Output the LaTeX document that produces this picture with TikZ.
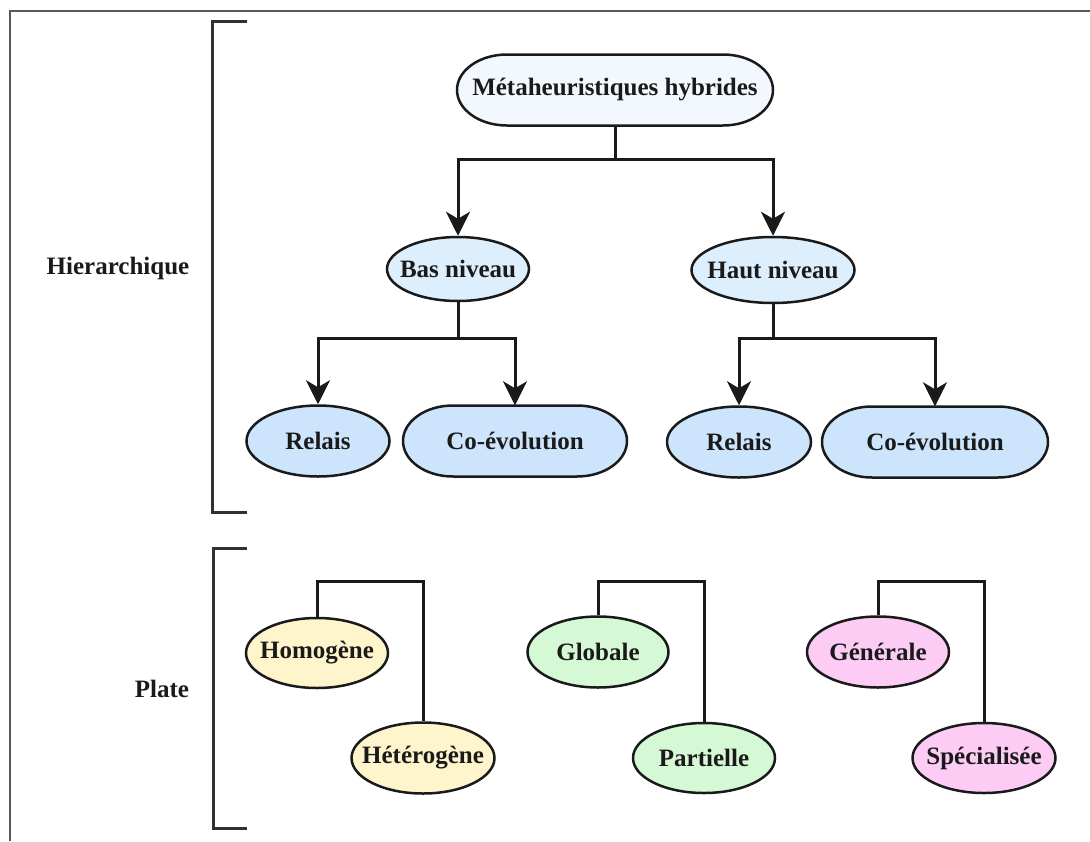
\documentclass[tikz,border=0pt]{standalone}
\usepackage{fontspec}
\setmainfont{Liberation Serif}
\usetikzlibrary{arrows.meta,shapes.geometric}

\definecolor{rootfill}{HTML}{F2F8FD}
\definecolor{midfill}{HTML}{DDEEFC}
\definecolor{leaffill}{HTML}{CCE5FC}
\definecolor{yelfill}{HTML}{FFF5CC}
\definecolor{grnfill}{HTML}{D5F8D5}
\definecolor{pnkfill}{HTML}{FCCCF4}
\definecolor{ink}{HTML}{1A1A1A}

\tikzset{
  txt/.style={font=\bfseries\fontsize{25}{29}\selectfont, text=ink},
  outline/.style={draw=ink, line width=2.5pt},
  oval/.style={outline, ellipse, inner sep=0pt},
  conn/.style={draw=ink, line width=3pt},
  arr/.style={conn, -{Stealth[length=24pt,width=24pt,inset=7pt]}},
  brace/.style={draw=ink!90, line width=3pt},
}

% wide node with elliptical ends: name, x, y, width, height, fill, text
\newcommand\pillnode[7]{%
  \draw[outline, fill=#6]
    (#2-#4/2+50, #3-#5/2) -- (#2+#4/2-50, #3-#5/2)
    arc[start angle=-90, end angle=90, x radius=50, y radius=#5/2]
    -- (#2-#4/2+50, #3+#5/2)
    arc[start angle=90, end angle=270, x radius=50, y radius=#5/2] -- cycle;
  \node[txt, inner sep=0pt, minimum width=#4pt, minimum height=#5pt] (#1) at (#2,#3) {#7};
}

\begin{document}
\begin{tikzpicture}[x=1pt,y=-1pt]
  \useasboundingbox (0,0) rectangle (1090,841);

  % frame lines along the top and left edges
  \draw[black!65, line width=1.5pt] (1090,11) -- (10,11) -- (10,841);

  % section brackets
  \draw[brace] (247,21) -- (212,21) -- (212,512) -- (247,512);
  \draw[brace] (247,548) -- (213,548) -- (213,828) -- (247,828);

  % section labels
  \node[txt] (lh) at (118,268) {Hierarchique};
  \node[txt] (lp) at (162,689) {Plate};

  % hierarchical classification
  \pillnode{root}{615}{90}{316}{71}{rootfill}{Métaheuristiques hybrides}
  \node[oval, fill=midfill, minimum width=142pt, minimum height=64pt,
        label={[txt]center:Bas niveau}] (bas) at (458,269) {};
  \node[oval, fill=midfill, minimum width=163pt, minimum height=66pt,
        label={[txt]center:Haut niveau}] (haut) at (773,270) {};

  \node[oval, fill=leaffill, minimum width=143pt, minimum height=71pt,
        label={[txt]center:Relais}] (r1) at (318,441) {};
  \pillnode{c1}{515}{441}{224}{71}{leaffill}{Co-évolution}
  \node[oval, fill=leaffill, minimum width=144pt, minimum height=71pt,
        label={[txt]center:Relais}] (r2) at (739,442) {};
  \pillnode{c2}{935}{442}{226}{71}{leaffill}{Co-évolution}

  \draw[arr] (root.south) -- ++(0,34) -| (bas.north);
  \draw[arr] (root.south) -- ++(0,34) -| (haut.north);
  \draw[arr] (bas.south) -- ++(0,36) -| (r1.north);
  \draw[arr] (bas.south) -- ++(0,36) -| (c1.north);
  \draw[arr] (haut.south) -- ++(0,34) -| (r2.north);
  \draw[arr] (haut.south) -- ++(0,34) -| (c2.north);

  % flat classification
  \node[oval, fill=yelfill, minimum width=142pt, minimum height=70pt,
        label={[txt]center:Homogène}] (hom) at (317,653) {};
  \node[oval, fill=yelfill, minimum width=143pt, minimum height=71pt,
        label={[txt]center:Hétérogène}] (het) at (423,758) {};
  \node[oval, fill=grnfill, minimum width=141pt, minimum height=71pt,
        label={[txt]center:Globale}] (glo) at (598,652) {};
  \node[oval, fill=grnfill, minimum width=142pt, minimum height=70pt,
        label={[txt]center:Partielle}] (par) at (704,758) {};
  \node[oval, fill=pnkfill, minimum width=142pt, minimum height=71pt,
        label={[txt]center:Générale}] (gen) at (878,652) {};
  \node[oval, fill=pnkfill, minimum width=143pt, minimum height=70pt,
        label={[txt]center:Spécialisée}] (spe) at (984,758) {};

  \draw[conn] (hom.north) -- ++(0,-35) -| (het.north);
  \draw[conn] (glo.north) -- ++(0,-34) -| (par.north);
  \draw[conn] (gen.north) -- ++(0,-34) -| (spe.north);
\end{tikzpicture}
\end{document}
